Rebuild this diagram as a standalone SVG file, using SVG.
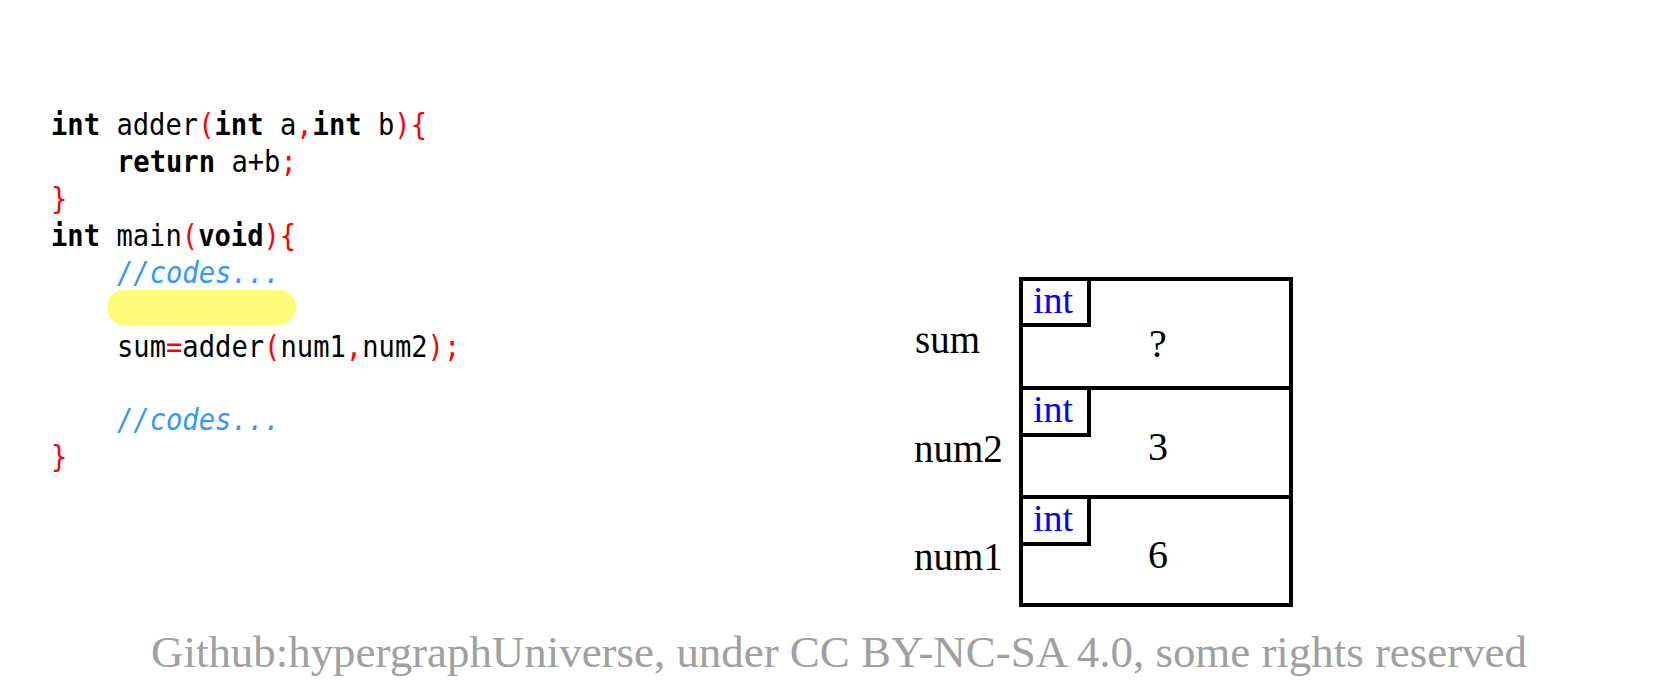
<svg xmlns="http://www.w3.org/2000/svg" width="1666" height="698" viewBox="0 0 1666 698">
<style>
.code{font-family:"DejaVu Sans Mono","Liberation Mono",monospace;font-size:30px;fill:#000}
.kw{font-weight:bold}
.r{fill:#ff0000}
.cm{fill:#3399ff;font-style:italic}
.lbl{font-family:"Liberation Serif","Times New Roman",serif;font-size:39px;fill:#000}
.typ{font-family:"Liberation Serif","Times New Roman",serif;font-size:38px;fill:#0000ff}
.val{font-family:"Liberation Serif","Times New Roman",serif;font-size:40px;fill:#000;text-anchor:middle}
.cell{fill:#fff;stroke:#000;stroke-width:4}
</style>
<rect width="1666" height="698" fill="#fff"/>
<g id="code">
<rect x="107" y="290" width="189" height="35" rx="17" fill="#fcfc78"/>
<g transform="translate(51 0) scale(0.905 1)">
<text class="code" x="0" y="135"><tspan class="kw">int</tspan> adder<tspan class="r">(</tspan><tspan class="kw">int</tspan> a<tspan class="r">,</tspan><tspan class="kw">int</tspan> b<tspan class="r">){</tspan></text>
<text class="code" x="72.9" y="172"><tspan class="kw">return</tspan> a+b<tspan class="r">;</tspan></text>
<text class="code r" x="0" y="209">}</text>
<text class="code" x="0" y="246"><tspan class="kw">int</tspan> main<tspan class="r">(</tspan><tspan class="kw">void</tspan><tspan class="r">){</tspan></text>
<text class="code cm" x="72.9" y="283">//codes...</text>
<text class="code" x="72.9" y="357">sum<tspan class="r">=</tspan>adder<tspan class="r">(</tspan>num1<tspan class="r">,</tspan>num2<tspan class="r">);</tspan></text>
<text class="code cm" x="72.9" y="430">//codes...</text>
<text class="code r" x="0" y="467">}</text>
</g>
</g>
<g id="var-sum">
<rect class="cell" x="1021" y="279" width="270" height="109"/>
<path d="M1021,325 H1089 V279" fill="none" stroke="#000" stroke-width="4"/>
<text class="typ" x="1033" y="313">int</text>
<text class="lbl" x="915" y="353">sum</text>
<text class="val" x="1158" y="357">?</text>
</g>
<g id="var-num2">
<rect class="cell" x="1021" y="388" width="270" height="109"/>
<path d="M1021,435 H1089 V388" fill="none" stroke="#000" stroke-width="4"/>
<text class="typ" x="1033" y="422">int</text>
<text class="lbl" x="914" y="462">num2</text>
<text class="val" x="1158" y="460">3</text>
</g>
<g id="var-num1">
<rect class="cell" x="1021" y="497" width="270" height="108"/>
<path d="M1021,544 H1089 V497" fill="none" stroke="#000" stroke-width="4"/>
<text class="typ" x="1033" y="531">int</text>
<text class="lbl" x="914" y="570">num1</text>
<text class="val" x="1158" y="568">6</text>
</g>
<g id="connectors"></g>
<text x="151" y="667" font-family="Liberation Serif,'Times New Roman',serif" font-size="44" fill="#a0a0a0" textLength="1376" lengthAdjust="spacingAndGlyphs">Github:hypergraphUniverse, under CC BY-NC-SA 4.0, some rights reserved</text>
</svg>
